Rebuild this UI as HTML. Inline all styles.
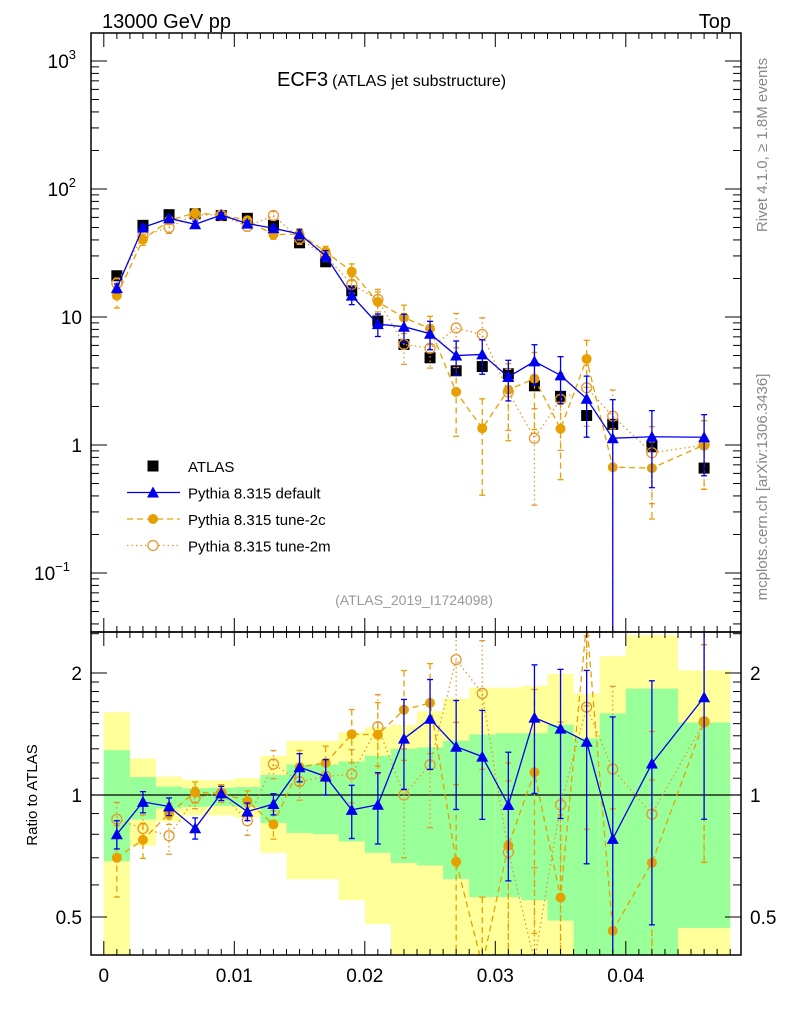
<!DOCTYPE html>
<html><head><meta charset="utf-8"><style>
html,body{margin:0;padding:0;background:#fff;width:786px;height:1024px;overflow:hidden}
svg{font-family:"Liberation Sans",sans-serif;display:block}
</style></head><body>
<svg id="chart" width="786" height="1024" xmlns="http://www.w3.org/2000/svg"></svg>
<script>
const edges=[0,0.002,0.004,0.006,0.008,0.010,0.012,0.014,0.016,0.018,0.020,0.022,0.024,0.026,0.028,0.030,0.032,0.034,0.036,0.038,0.040,0.044,0.048];
const dataVals=[21,52,63,64,62,59,52,38,27,16,9.3,6.1,4.8,3.8,4.1,3.6,2.9,2.4,1.7,1.45,0.97,0.66];
const defVals=[16.8,50,59,53,62.6,53.7,49.4,44.5,30,14.7,8.8,8.4,7.4,5.0,5.1,3.4,4.5,3.5,2.3,1.13,1.16,1.15];
const defErr=[0.08,0.06,0.05,0.06,0.04,0.05,0.06,0.08,0.1,0.15,0.2,0.25,0.25,0.3,0.3,0.35,0.35,0.4,0.5,1.0,0.6,0.5];
const c2Vals=[14.7,40.3,56.7,65,62.6,57,44,44.5,32.4,22.6,13.1,9.9,8.1,2.6,1.35,2.7,3.3,1.34,4.7,0.67,0.66,1.0];
const c2Err=[0.2,0.1,0.06,0.06,0.05,0.06,0.08,0.1,0.1,0.15,0.2,0.25,0.25,0.55,0.7,0.6,0.6,0.6,0.4,1.0,0.6,0.55];
const m2Vals=[18.3,43,50,63,62.6,51,62,41,30,18,13.7,6.1,5.7,8.2,7.3,2.6,1.13,2.27,2.8,1.68,0.87,1.0];
const m2Err=[0.1,0.08,0.1,0.06,0.05,0.08,0.08,0.1,0.1,0.15,0.2,0.3,0.3,0.3,0.35,0.5,0.7,0.6,0.5,0.6,0.6,0.55];
const greenUp=[1.29,1.107,1.049,1.039,1.042,1.046,1.12,1.19,1.19,1.21,1.25,1.30,1.31,1.36,1.41,1.42,1.42,1.49,1.38,1.59,1.83,1.51];
const greenDn=[0.686,0.87,0.926,0.935,0.94,0.935,0.853,0.806,0.80,0.768,0.72,0.68,0.67,0.62,0.56,0.56,0.55,0.49,0.3,0.3,0.3,0.47];
const yelUp=[1.60,1.23,1.11,1.09,1.087,1.10,1.25,1.36,1.36,1.43,1.47,1.49,1.61,1.73,1.84,1.84,1.86,1.99,1.78,2.20,2.48,2.03];
const yelDn=[0.3,0.75,0.86,0.89,0.89,0.88,0.72,0.62,0.62,0.55,0.48,0.3,0.3,0.3,0.3,0.3,0.3,0.3,0.60,0.3,0.3,0.3];
const xTicks=[0,0.01,0.02,0.03,0.04];
const xTickLabels=["0","0.01","0.02","0.03","0.04"];

const L=91,R=741,T=33,MB=632,RB=955;
const X=v=>103.8+13050*v;
const Y=v=>445-128*Math.log10(v);
const RY=r=>795-405.3*Math.log10(r);
const clamp=(v,a,b)=>Math.max(a,Math.min(b,v));
const svg=document.getElementById('chart');
const NS='http://www.w3.org/2000/svg';
function mk(tag,attrs,parent){const e=document.createElementNS(NS,tag);for(const k in attrs)e.setAttribute(k,attrs[k]);(parent||svg).appendChild(e);return e;}
function txt(s,attrs,parent){const e=mk('text',attrs,parent);e.textContent=s;return e;}
const cen=dataVals.map((_,i)=>(edges[i]+edges[i+1])/2);

const defs=mk('defs',{});
const cm=mk('clipPath',{id:'cm'},defs);mk('rect',{x:L,y:T,width:R-L,height:MB-T},cm);
const cr=mk('clipPath',{id:'cr'},defs);mk('rect',{x:L,y:MB,width:R-L,height:RB-MB},cr);

const gBand=mk('g',{'clip-path':'url(#cr)'});


for(let i=0;i<dataVals.length;i++){
  const x0=X(edges[i]),x1=X(edges[i+1]);
  const yu=clamp(RY(yelUp[i]),MB,RB),yd=clamp(RY(yelDn[i]),MB,RB);
  const y=mk('rect',{x:x0,y:yu,width:x1-x0,height:yd-yu,fill:'#ffff99'},gBand);
  
  
  const gu=clamp(RY(greenUp[i]),MB,RB),gd=clamp(RY(greenDn[i]),MB,RB);
  const g=mk('rect',{x:x0,y:gu,width:x1-x0,height:gd-gu,fill:'#99ff99'},gBand);
  
  
}
mk('line',{x1:L,x2:R,y1:RY(1),y2:RY(1),stroke:'#000','stroke-width':1.2});

function series(vals,errs,color,dash,marker,name,ratio){
  const g=mk('g',{'clip-path':ratio?'url(#cr)':'url(#cm)'});
  
  
  const lo=ratio?MB-10:T-10,hi=ratio?RB+10:MB+10;
  const yf=ratio?(i,v)=>clamp(RY(v/dataVals[i]),lo,hi):(i,v)=>clamp(Y(v),lo,hi);
  let d='';
  vals.forEach((v,i)=>{d+=(i?'L':'M')+X(cen[i])+','+yf(i,v);});
  if(color!=='#000')mk('path',{d:d,fill:'none',stroke:color,'stroke-width':1.3,'stroke-dasharray':dash},g);
  vals.forEach((v,i)=>{
    const x=X(cen[i]);const e=errs[i];
    const yu=yf(i,v*(1+e)),yd=yf(i,Math.max(v*(1-e),1e-4));
    mk('line',{x1:x,x2:x,y1:yu,y2:yd,stroke:color,'stroke-width':1.3,'stroke-dasharray':dash},g);
    mk('line',{x1:x-3,x2:x+3,y1:yu,y2:yu,stroke:color,'stroke-width':1.3},g);
    mk('line',{x1:x-3,x2:x+3,y1:yd,y2:yd,stroke:color,'stroke-width':1.3},g);
    const y=yf(i,v);
    let m;
    if(marker==='sq')m=mk('rect',{x:x-5.5,y:y-5.5,width:11,height:11,fill:'#000'},g);
    else if(marker==='tri')m=mk('path',{d:`M${x},${y-6}L${x+6},${y+5}L${x-6},${y+5}Z`,fill:color},g);
    else if(marker==='dot')m=mk('circle',{cx:x,cy:y,r:5,fill:color},g);
    else m=mk('circle',{cx:x,cy:y,r:5,fill:'none',stroke:color,'stroke-width':1.3},g);
    
    
  });
}
const dataErr=dataVals.map(()=>0.04);
series(dataVals,dataErr,'#000','','sq','atlas-data',false);
series(m2Vals,m2Err,'#e8962e','1.5,3','open','tune-2m-series',false);
series(c2Vals,c2Err,'#e8a000','6,4','dot','tune-2c-series',false);
series(defVals,defErr,'#0000ee','','tri','default-series',false);
series(m2Vals,m2Err,'#e8962e','1.5,3','open','tune-2m-ratio',true);
series(c2Vals,c2Err,'#e8a000','6,4','dot','tune-2c-ratio',true);
series(defVals,defErr,'#0000ee','','tri','default-ratio',true);

mk('rect',{x:L,y:T,width:R-L,height:MB-T,fill:'none',stroke:'#000','stroke-width':1.5});
mk('rect',{x:L,y:MB,width:R-L,height:RB-MB,fill:'none',stroke:'#000','stroke-width':1.5});

for(let v=0;v<=0.0485;v+=0.001){
  const x=X(v);const maj=Math.abs(v*100-Math.round(v*100))<1e-6;const len=maj?14:6;
  [[T,T+len],[MB,MB-len],[MB,MB+len],[RB,RB-len]].forEach(([a,b])=>mk('line',{x1:x,x2:x,y1:a,y2:b,stroke:'#000','stroke-width':1}));
}
xTicks.forEach((v,i)=>{const t=txt(xTickLabels[i],{x:X(v),y:982,'font-size':19,'text-anchor':'middle'});

});

for(let dec=-2;dec<=3;dec++){
  for(let k=1;k<10;k++){
    const v=k*Math.pow(10,dec);const y=Y(v);if(y<T||y>MB)continue;
    const len=k===1?16:8;
    mk('line',{x1:L,x2:L+len,y1:y,y2:y,stroke:'#000'});
    mk('line',{x1:R,x2:R-len,y1:y,y2:y,stroke:'#000'});
  }
}
const yl=[[1000,'10','3'],[100,'10','2'],[10,'10',''],[1,'1',''],[0.1,'10','−1']];
yl.forEach(([v,b,e])=>{const t=mk('text',{x:e?(e==='−1'?70:76):82,y:Y(v)+7,'font-size':19,'text-anchor':'end'});


t.textContent=b;if(e){const s=mk('tspan',{dy:-9,'font-size':13},t);s.textContent=e;}});

[0.4,0.5,0.6,0.7,0.8,0.9,1,1.1,1.2,1.3,1.4,1.5,1.6,1.7,1.8,1.9,2,2.5].forEach(r=>{
  const y=RY(r);if(y<MB||y>RB)return;const maj=(r===0.5||r===1||r===2);const len=maj?16:8;
  mk('line',{x1:L,x2:L+len,y1:y,y2:y,stroke:'#000'});mk('line',{x1:R,x2:R-len,y1:y,y2:y,stroke:'#000'});
});
[[2,'2'],[1,'1'],[0.5,'0.5']].forEach(([r,s])=>{
  const a=txt(s,{x:82,y:RY(r)+7,'font-size':19,'text-anchor':'end'});
  
  
  const b=txt(s,{x:750,y:RY(r)+7,'font-size':19});
  
  
});

let t;
t=txt('13000 GeV pp',{x:102,y:28,'font-size':20});
t=txt('Top',{x:731,y:28,'font-size':20,'text-anchor':'end'});
t=mk('text',{x:277,y:86,'font-size':20});
t.textContent='ECF3';const ts=mk('tspan',{'font-size':16,dx:4},t);ts.textContent='(ATLAS jet substructure)';
t=txt('(ATLAS_2019_I1724098)',{x:414,y:605,'font-size':14,fill:'#999','text-anchor':'middle'});
t=txt('Rivet 4.1.0, ≥ 1.8M events',{x:0,y:0,'font-size':15,fill:'#888','text-anchor':'middle',transform:'translate(767,145) rotate(-90)'});
t=txt('mcplots.cern.ch [arXiv:1306.3436]',{x:0,y:0,'font-size':15,fill:'#888','text-anchor':'middle',transform:'translate(767,487) rotate(-90)'});
t=txt('Ratio to ATLAS',{x:0,y:0,'font-size':15,'text-anchor':'middle',transform:'translate(37,795) rotate(-90)'});

const lg=mk('g',{});
const items=[['ATLAS','#000','','sq'],['Pythia 8.315 default','#0000ee','','tri'],['Pythia 8.315 tune-2c','#e8a000','6,4','dot'],['Pythia 8.315 tune-2m','#e8962e','1.5,3','open']];
items.forEach(([s,c,d,m],i)=>{
  const y=466+i*26.5;const x=153;
  const e=mk('g',{},lg);
  if(m!=='sq')mk('line',{x1:127,x2:180,y1:y,y2:y,stroke:c,'stroke-width':1.3,'stroke-dasharray':d},e);
  if(m==='sq')mk('rect',{x:x-5.5,y:y-5.5,width:11,height:11,fill:'#000'},e);
  else if(m==='tri')mk('path',{d:`M${x},${y-6}L${x+6},${y+5}L${x-6},${y+5}Z`,fill:c},e);
  else if(m==='dot')mk('circle',{cx:x,cy:y,r:5,fill:c},e);
  else mk('circle',{cx:x,cy:y,r:5,fill:'#fff',stroke:c,'stroke-width':1.3},e);
  txt(s,{x:188,y:y+6,'font-size':15},e);
});
</script>
</body></html>
